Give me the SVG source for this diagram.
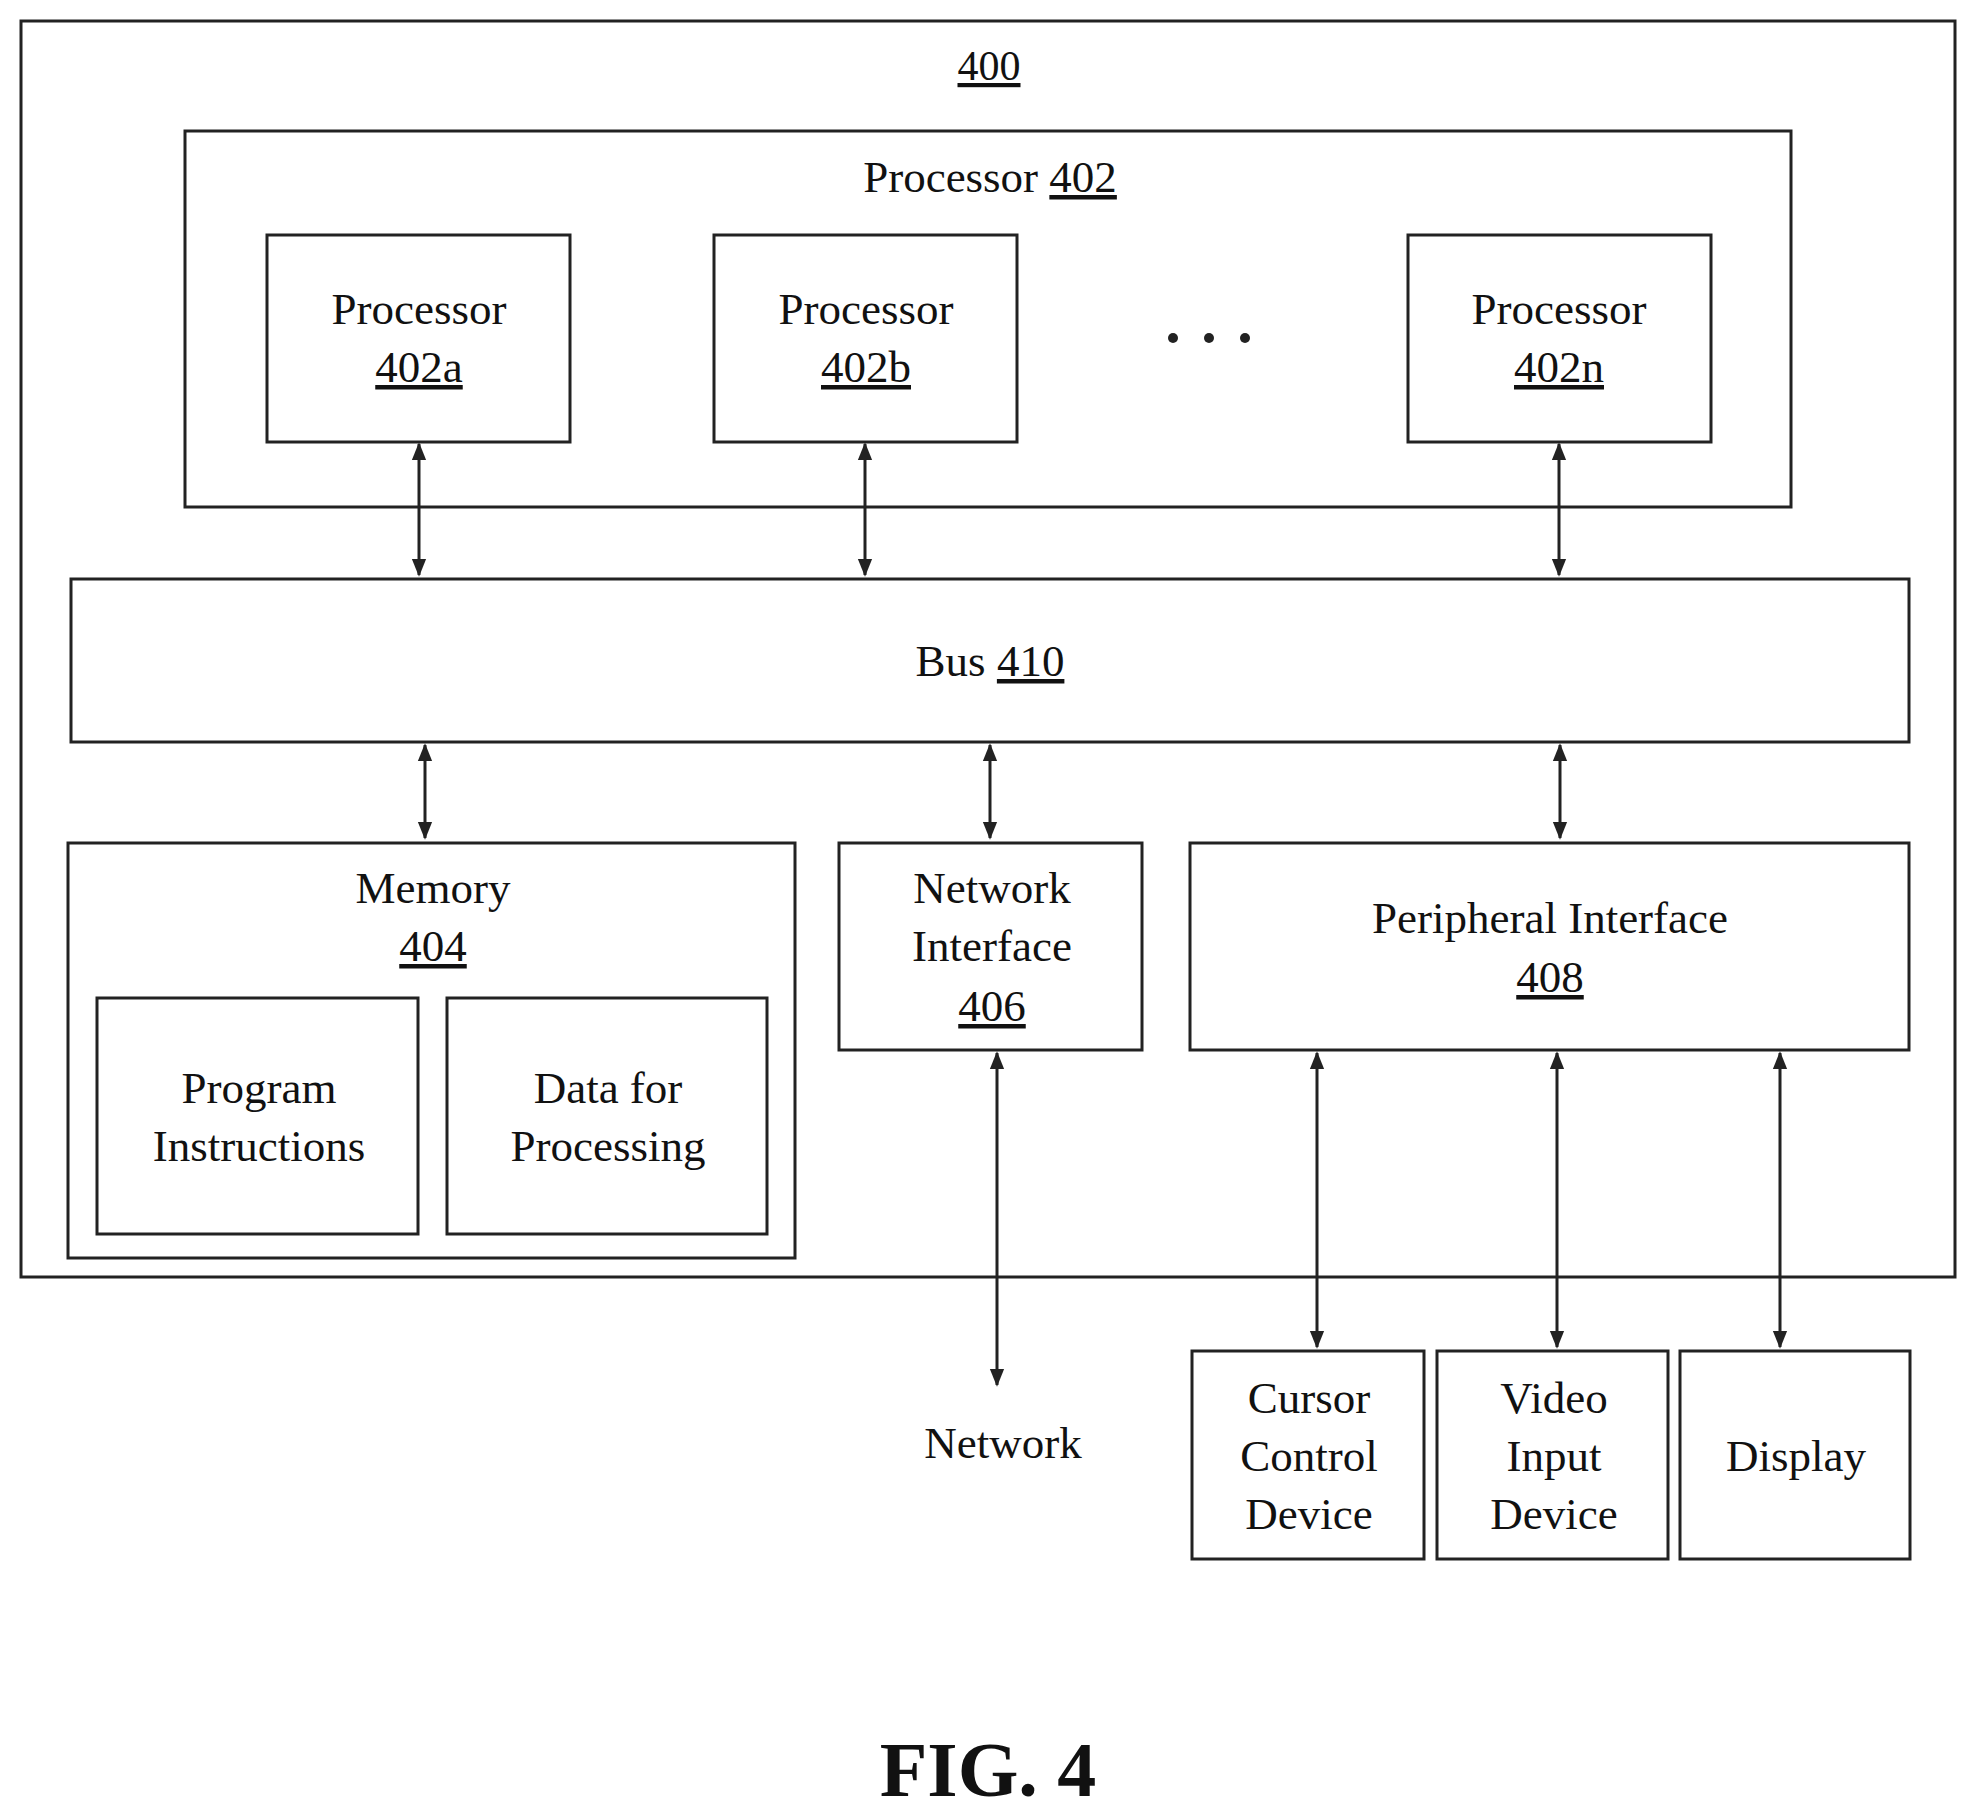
<svg xmlns="http://www.w3.org/2000/svg" width="1978" height="1816" viewBox="0 0 1978 1816">
<style>
rect{fill:none;stroke:#222;stroke-width:3}
text{font-family:"Liberation Serif",serif;font-size:45px;fill:#111;text-anchor:middle}
.u{text-decoration:underline}
.c line{stroke:#222;stroke-width:3;marker-start:url(#a);marker-end:url(#a)}
</style>
<defs><marker id="a" viewBox="0 0 10 10" refX="9" refY="5" markerWidth="6" markerHeight="6" orient="auto-start-reverse" markerUnits="strokeWidth"><path d="M0,1 L10,5 L0,9 z" fill="#222"/></marker></defs>
<rect x="0" y="0" width="1978" height="1816" style="fill:#fff;stroke:none"/>
<g id="n400"><rect x="21" y="21" width="1934" height="1256"/><text x="989" y="80" class="u" style="font-size:42px">400</text></g>
<g id="n402"><rect x="185" y="131" width="1606" height="376"/><text x="990" y="192">Processor <tspan class="u">402</tspan></text></g>
<g id="n402a"><rect x="267" y="235" width="303" height="207"/><text x="419" y="324">Processor</text><text x="419" y="382" class="u">402a</text></g>
<g id="n402b"><rect x="714" y="235" width="303" height="207"/><text x="866" y="324">Processor</text><text x="866" y="382" class="u">402b</text></g>
<g id="dots"><circle cx="1173" cy="338" r="5" fill="#222"/><circle cx="1209" cy="338" r="5" fill="#222"/><circle cx="1245" cy="338" r="5" fill="#222"/></g>
<g id="n402n"><rect x="1408" y="235" width="303" height="207"/><text x="1559" y="324">Processor</text><text x="1559" y="382" class="u">402n</text></g>
<g id="n410"><rect x="71" y="579" width="1838" height="163"/><text x="990" y="676">Bus <tspan class="u">410</tspan></text></g>
<g id="n404"><rect x="68" y="843" width="727" height="415"/><text x="433" y="903">Memory</text><text x="433" y="961" class="u">404</text></g>
<g id="prog"><rect x="97" y="998" width="321" height="236"/><text x="259" y="1103">Program</text><text x="259" y="1161">Instructions</text></g>
<g id="data"><rect x="447" y="998" width="320" height="236"/><text x="608" y="1103">Data for</text><text x="608" y="1161">Processing</text></g>
<g id="n406"><rect x="839" y="843" width="303" height="207"/><text x="992" y="903">Network</text><text x="992" y="961">Interface</text><text x="992" y="1021" class="u">406</text></g>
<g id="n408"><rect x="1190" y="843" width="719" height="207"/><text x="1550" y="933">Peripheral Interface</text><text x="1550" y="992" class="u">408</text></g>
<g id="net"><text x="1003" y="1458">Network</text></g>
<g id="cursor"><rect x="1192" y="1351" width="232" height="208"/><text x="1309" y="1413">Cursor</text><text x="1309" y="1471">Control</text><text x="1309" y="1529">Device</text></g>
<g id="video"><rect x="1437" y="1351" width="231" height="208"/><text x="1554" y="1413">Video</text><text x="1554" y="1471">Input</text><text x="1554" y="1529">Device</text></g>
<g id="display"><rect x="1680" y="1351" width="230" height="208"/><text x="1796" y="1471">Display</text></g>
<g class="c">
<line x1="419" y1="444" x2="419" y2="575"/>
<line x1="865" y1="444" x2="865" y2="575"/>
<line x1="1559" y1="444" x2="1559" y2="575"/>
<line x1="425" y1="745" x2="425" y2="838"/>
<line x1="990" y1="745" x2="990" y2="838"/>
<line x1="1560" y1="745" x2="1560" y2="838"/>
<line x1="997" y1="1053" x2="997" y2="1385"/>
<line x1="1317" y1="1053" x2="1317" y2="1347"/>
<line x1="1557" y1="1053" x2="1557" y2="1347"/>
<line x1="1780" y1="1053" x2="1780" y2="1347"/>
</g>
<text x="988" y="1796" style="font-size:78px;font-weight:bold">FIG. 4</text>
</svg>
